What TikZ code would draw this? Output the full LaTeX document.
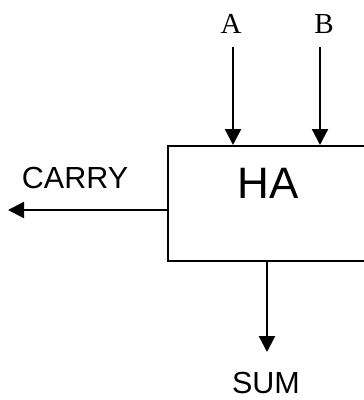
\documentclass[tikz,border=0pt]{standalone}
\usepackage{fontspec}
\setmainfont{Liberation Serif}
\newfontfamily\labelsans{Liberation Sans}
\usetikzlibrary{arrows.meta,calc}
\tikzset{
  wire/.style={line width=2.3pt, -{Triangle[length=16pt,width=16pt]}},
  pinname/.style={font=\fontsize{29}{29}\selectfont, anchor=base, inner sep=0pt},
  signame/.style={font=\labelsans\fontsize{30.5}{30.5}\selectfont, anchor=base, inner sep=0pt},
  block/.style={draw, line width=2.3pt, rectangle, inner sep=0pt}
}
\begin{document}
\begin{tikzpicture}[x=1pt,y=-1pt]
  \useasboundingbox (0,0) rectangle (364,400);
  \clip (0,0) rectangle (364,400);
  % half adder block (extends past the right edge)
  \node[block, minimum width=213pt, minimum height=115pt, anchor=north west] (ha) at (167,145) {};
  \node[signame, font=\labelsans\fontsize{44}{44}\selectfont] (halbl) at (268,198) {HA};
  % inputs
  \node[pinname] (a) at (231,33) {A};
  \node[pinname] (b) at (324,33) {B};
  \coordinate (astart) at (233,47);
  \coordinate (bstart) at (320,47);
  \draw[wire] (astart) -- (astart |- ha.north);
  \draw[wire] (bstart) -- (bstart |- ha.north);
  % carry output
  \node[signame] (carry) at (75,188) {CARRY};
  \coordinate (cend) at (8,210);
  \draw[wire] (ha.west |- cend) -- (cend);
  % sum output
  \node[signame] (sum) at (266,393) {SUM};
  \coordinate (send) at (267,352);
  \draw[wire] (send |- ha.south) -- (send);
\end{tikzpicture}
\end{document}
